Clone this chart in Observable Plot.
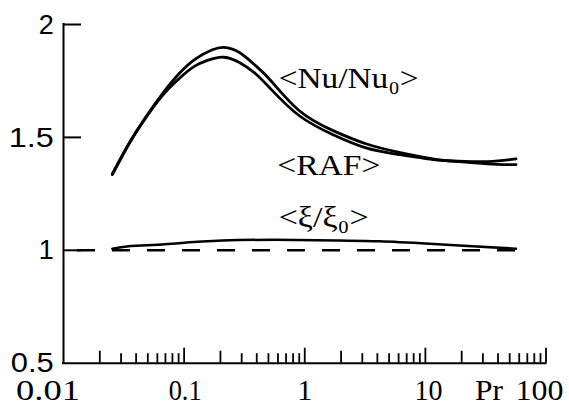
<!DOCTYPE html>
<html>
<head>
<meta charset="utf-8">
<script src="https://cdn.jsdelivr.net/npm/d3@7"></script>
<script src="https://cdn.jsdelivr.net/npm/@observablehq/plot@0.6"></script>
<style>
  html, body { margin: 0; padding: 0; background: #fff; overflow: hidden; }
</style>
</head>
<body>
<div id="chart"></div>
<script>
// ---- data ----
const prPair = [0.0254, 0.0348, 0.0479, 0.066, 0.0906, 0.1245, 0.1714, 0.214, 0.285, 0.391, 0.522, 0.897, 1.70, 3.21, 6.06, 11.5, 17.3, 32.8, 56.4];
const nuRatio = [1.339, 1.472, 1.589, 1.693, 1.782, 1.848, 1.888, 1.899, 1.877, 1.818, 1.752, 1.619, 1.531, 1.472, 1.434, 1.405, 1.394, 1.383, 1.379];
const rafValue = [1.335, 1.470, 1.585, 1.685, 1.760, 1.818, 1.848, 1.855, 1.833, 1.782, 1.715, 1.597, 1.513, 1.454, 1.424, 1.402, 1.396, 1.393, 1.405];
const prXi = [0.0254, 0.0348, 0.066, 0.2076, 0.842, 1.93, 4.14, 10.8, 24.6, 56.4];
const xiRatio = [1.007, 1.018, 1.026, 1.043, 1.046, 1.043, 1.040, 1.029, 1.018, 1.007];
const referenceValue = 1;

const xTicksDecade = [0.1, 1, 10, 100];
const xTicksTwo = [0.02, 0.2, 2, 20];
const xTicksMinor = [0.03, 0.04, 0.05, 0.06, 0.07, 0.08, 0.09,
                     0.3, 0.4, 0.5, 0.6, 0.7, 0.8, 0.9,
                     3, 4, 5, 6, 7, 8, 9,
                     30, 40, 50, 60, 70, 80, 90];
const yTicks = [1, 1.5, 2];
const yTickValues = [0.5, 1, 1.5, 2];
const yTickLabels = ["0.5", "1", "1.5", "2"];
const xTickValues = [0.01, 0.1, 1, 10, 100];
const xTickLabels = ["0.01", "0.1", "1", "10", "100"];
const xAxisName = "Pr";
const xAxisNameAt = 33.6;
const curveLabelText = ["<Nu/Nu\u2080>", "<RAF>", "<\u03BE/\u03BE\u2080>"];
const curveLabelPr = [0.608, 0.593, 0.608];
const curveLabelValue = [1.717, 1.334, 1.102];

// ---- layout / style ----
const W = 569, H = 404;
const mL = 63, mR = 23.5, mT = 24, mB = 41.3;
const innerW = W - mL - mR, innerH = H - mT - mB;
const serif = "Liberation Serif, Times New Roman, Times, serif";
const sans = "Liberation Sans, Arial, Helvetica, sans-serif";
const xLabelDx = [-15.5, 1, 0, 3, -6.5];

const pairNu = prPair.map((p, i) => ({pr: p, v: nuRatio[i]}));
const pairRaf = prPair.map((p, i) => ({pr: p, v: rafValue[i]}));
const xiData = prXi.map((p, i) => ({pr: p, v: xiRatio[i]}));
const yLabelData = yTickValues.map((v, i) => ({v, t: yTickLabels[i]}));
const curveLabels = curveLabelText.map((t, i) => ({t, pr: curveLabelPr[i], v: curveLabelValue[i]}));

const marks = [
  // curves
  Plot.line(pairNu, {x: "pr", y: "v", stroke: "#000", strokeWidth: 2.8, curve: "natural"}),
  Plot.line(pairRaf, {x: "pr", y: "v", stroke: "#000", strokeWidth: 2.8, curve: "natural"}),
  Plot.line(xiData, {x: "pr", y: "v", stroke: "#000", strokeWidth: 2.5, curve: "natural"}),
  Plot.ruleY([referenceValue], {x1: xTickValues[0], x2: prXi[prXi.length - 1], stroke: "#000", strokeWidth: 2.5, strokeDasharray: "18,17", strokeDashoffset: 21}),
  // axes lines
  Plot.ruleX([xTickValues[0]], {y1: yTickValues[0], y2: yTickValues[yTickValues.length - 1], stroke: "#000", strokeWidth: 2, strokeLinecap: "square"}),
  Plot.ruleY([yTickValues[0]], {x1: xTickValues[0], x2: xTickValues[xTickValues.length - 1], stroke: "#000", strokeWidth: 2, strokeLinecap: "square"}),
  // y ticks (inward)
  Plot.ruleY(yTicks, {insetRight: innerW - 18, stroke: "#000", strokeWidth: 2}),
  // x ticks (inward)
  Plot.ruleX(xTicksDecade, {insetTop: innerH - 15, stroke: "#000", strokeWidth: 1.8}),
  Plot.ruleX(xTicksTwo, {insetTop: innerH - 12, stroke: "#000", strokeWidth: 1.8}),
  Plot.ruleX(xTicksMinor, {insetTop: innerH - 9.5, stroke: "#000", strokeWidth: 1.8}),
  // y tick labels
  Plot.text(yLabelData, {y: "v", text: "t", frameAnchor: "left", textAnchor: "end", dx: -9.7, dy: 0.5, fontSize: 27, fontFamily: sans, fill: "#000"}),
  // x tick labels
  ...xTickLabels.map((t, i) => Plot.text([t], {x: xTickValues[i], text: d => d, frameAnchor: "bottom", lineAnchor: "bottom", dx: xLabelDx[i], dy: 37, fontSize: 30, fontFamily: serif, fill: "#000"})),
  Plot.text([xAxisName], {x: xAxisNameAt, text: d => d, frameAnchor: "bottom", lineAnchor: "bottom", dy: 37, fontSize: 30, fontFamily: serif, fill: "#000"}),
  // curve labels
  Plot.text(curveLabels, {x: "pr", y: "v", text: "t", textAnchor: "start", lineAnchor: "bottom", fontSize: 29, fontFamily: serif, fill: "#000"})
];

const chart = Plot.plot({
  width: W, height: H,
  marginLeft: mL, marginRight: mR, marginTop: mT, marginBottom: mB,
  x: {type: "log", domain: [xTickValues[0], xTickValues[xTickValues.length - 1]], axis: null},
  y: {domain: [yTickValues[0], yTickValues[yTickValues.length - 1]], axis: null},
  style: {background: "#fff", overflow: "visible"},
  marks
});
document.getElementById("chart").appendChild(chart);

// The scanned figure's lettering is wide: widen texts to the measured widths
// with a horizontal scale about each text's anchor point.
const targetWidth = {
  "0.01": 64, "0.1": 33, "10": 28, "100": 48, "Pr": 28,
  "<Nu/Nu\u2080>": 140, "<RAF>": 103, "<\u03BE/\u03BE\u2080>": 90,
  "1.5": 45, "0.5": 43
};
chart.querySelectorAll("text").forEach(el => {
  const t = el.textContent;
  const w = targetWidth[t];
  if (w == null) return;
  const bb = el.getBBox();
  if (!bb.width) return;
  const anchor = getComputedStyle(el).textAnchor || "start";
  const cx = anchor === "middle" ? bb.x + bb.width / 2 : anchor === "end" ? bb.x + bb.width : bb.x;
  const s = w / bb.width;
  const prev = el.getAttribute("transform") || "";
  el.setAttribute("transform", `${prev} translate(${cx},0) scale(${s},1) translate(${-cx},0)`);
});
</script>
</body>
</html>
